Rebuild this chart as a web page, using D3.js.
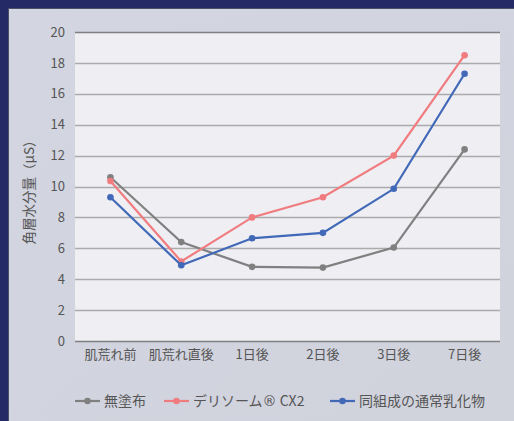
<!DOCTYPE html>
<html>
<head>
<meta charset="utf-8">
<script src="https://cdn.jsdelivr.net/npm/d3@7"></script>
<style>
  body { margin: 0; background: #232a66; }
  svg { display: block; }
</style>
</head>
<body>
<div id="chart"></div>
<script>
const width = 514
const height = 421
const margin = { top: 32, right: 14, bottom: 80, left: 75 }

const categories = ["肌荒れ前", "肌荒れ直後", "1日後", "2日後", "3日後", "7日後"]
const seriesNames = ["無塗布", "デリソーム® CX2", "同組成の通常乳化物"]
const untreated = [10.6, 6.4, 4.8, 4.75, 6.05, 12.4]
const delisome = [10.35, 5.15, 8.0, 9.3, 12.0, 18.5]
const emulsion = [9.3, 4.9, 6.65, 7.0, 9.85, 17.3]
const yTicks = [0, 2, 4, 6, 8, 10, 12, 14, 16, 18, 20]
const colors = ["#808080", "#f07c80", "#4169b8"]

const series = [untreated, delisome, emulsion]

var x = d3.scaleBand(categories, [margin.left, width - margin.right])
var y = d3.scaleLinear([0, 20], [height - margin.bottom, margin.top])

var svg = d3.select("#chart").append("svg")
  .attr("width", width)
  .attr("height", height)
  .style("font-family", "'Noto Sans CJK JP', 'Noto Sans', sans-serif")

var grad = svg.append("defs").append("linearGradient")
  .attr("id", "bg").attr("x1", 0).attr("y1", 0).attr("x2", 1).attr("y2", 1)
grad.append("stop").attr("offset", 0).attr("stop-color", "#d3d5e1")
grad.append("stop").attr("offset", 1).attr("stop-color", "#d0d2dc")

// panel
svg.append("rect")
  .attr("x", 8).attr("y", 8)
  .attr("width", width - 8).attr("height", height - 8)
  .attr("fill", "url(#bg)")
svg.append("line")
  .attr("x1", 8.5).attr("x2", 8.5).attr("y1", 8).attr("y2", height)
  .attr("stroke", "#4a4f6a")
svg.append("line")
  .attr("x1", 8).attr("x2", width).attr("y1", 8.5).attr("y2", 8.5)
  .attr("stroke", "#4a4f6a")

// plot area
svg.append("rect")
  .attr("x", margin.left).attr("y", margin.top)
  .attr("width", width - margin.left - margin.right)
  .attr("height", height - margin.top - margin.bottom)
  .attr("fill", "#eeeef3")

// grid
svg.append("g")
  .selectAll("line")
  .data(yTicks)
  .enter()
  .append("line")
  .attr("x1", margin.left)
  .attr("x2", width - margin.right)
  .attr("y1", (d) => Math.round(y(d)) + 0.5)
  .attr("y2", (d) => Math.round(y(d)) + 0.5)
  .attr("stroke", (d) => (d === 0 || d === 20 ? "#808080" : "#ababab"))
  .attr("stroke-width", 1.3)

// y axis labels
var yAxis = d3.axisLeft(y).tickValues(yTicks).tickSize(0).tickPadding(10)
svg.append("g")
  .attr("transform", `translate(${margin.left},0)`)
  .call(yAxis)
  .call((g) => g.select(".domain").remove())
  .selectAll("text")
  .style("font-size", "13px")
  .style("font-family", "'Noto Sans CJK JP', sans-serif")
  .attr("fill", "#555")

// x axis labels
var xAxis = d3.axisBottom(x).tickSize(0).tickPadding(9)
svg.append("g")
  .attr("transform", `translate(0,${height - margin.bottom})`)
  .call(xAxis)
  .call((g) => g.select(".domain").remove())
  .selectAll("text")
  .style("font-size", "13px")
  .style("font-family", "'Noto Sans CJK JP', sans-serif")
  .attr("fill", "#555")

// y title
svg.append("text")
  .attr("transform", `translate(34,189) rotate(-90)`)
  .attr("text-anchor", "middle")
  .style("font-size", "13.5px")
  .attr("fill", "#555")
  .text("角層水分量（μS）")

// lines
var line = d3.line()
  .x((d, i) => x(categories[i]) + x.bandwidth() / 2)
  .y((d) => y(d))

series.forEach((s, k) => {
  svg.append("path")
    .datum(s)
    .attr("d", line)
    .attr("fill", "none")
    .attr("stroke", colors[k])
    .attr("stroke-width", 2.2)
  svg.append("g")
    .selectAll("circle")
    .data(s)
    .enter()
    .append("circle")
    .attr("cx", (d, i) => x(categories[i]) + x.bandwidth() / 2)
    .attr("cy", (d) => y(d))
    .attr("r", 3.3)
    .attr("fill", colors[k])
})

// legend
const legendX = [75, 164, 330]
var legend = svg.append("g")
  .selectAll("g")
  .data(seriesNames)
  .enter()
  .append("g")
  .attr("transform", (d, i) => `translate(${legendX[i]},401)`)
legend.append("line")
  .attr("x1", 0).attr("x2", 25)
  .attr("stroke", (d, i) => colors[i])
  .attr("stroke-width", 2.2)
legend.append("circle")
  .attr("cx", 12.5).attr("r", 3.3)
  .attr("fill", (d, i) => colors[i])
legend.append("text")
  .attr("x", 29).attr("dy", "0.35em")
  .style("font-size", "14px")
  .attr("fill", "#555")
  .each(function (d) {
    var t = d3.select(this)
    d.split(/(®)/).forEach((part) => {
      if (!part) return
      var span = t.append("tspan").text(part)
      if (part === "®") span.style("font-family", "'DejaVu Sans'").style("font-size", "14px")
    })
  })
</script>
</body>
</html>
